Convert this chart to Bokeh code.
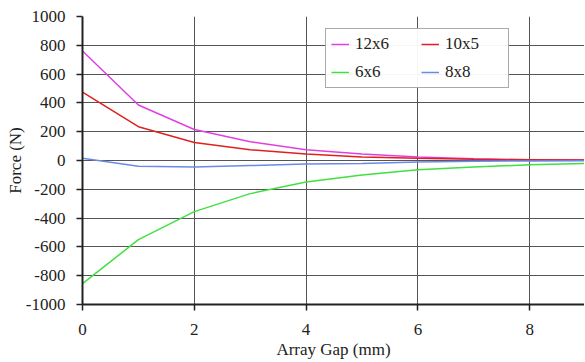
from bokeh.plotting import figure
from bokeh.models import Range1d, Legend, LegendItem, FixedTicker
from bokeh.embed import file_html
from bokeh.resources import INLINE

gap = [0, 1, 2, 3, 4, 5, 6, 7, 8, 9, 10]
f_12x6 = [760, 385, 215, 130, 75, 45, 25, 12, 5, 3, 2]
f_10x5 = [475, 235, 125, 75, 45, 25, 15, 8, 5, 3, 2]
f_6x6 = [-855, -550, -355, -230, -150, -100, -65, -45, -30, -20, -15]
f_8x8 = [15, -40, -45, -35, -25, -20, -10, -5, -3, -2, -1]
series_names = ["12x6", "10x5", "6x6", "8x8"]
series_colors = ["#e040e0", "#e02020", "#40e040", "#6a8ae6"]
x_ticks = [0, 2, 4, 6, 8]
y_ticks = list(range(-1000, 1001, 200))

FONT = "Liberation Serif"

p = figure(width=584, height=361, output_backend="svg", toolbar_location=None,
           x_range=Range1d(0, 8.98), y_range=Range1d(-1000, 1000),
           min_border_left=82, min_border_right=0, min_border_top=16, min_border_bottom=57)
p.outline_line_color = None
p.background_fill_color = "white"
p.border_fill_color = "white"

renderers = []
for ys, c in zip([f_12x6, f_10x5, f_6x6, f_8x8], series_colors):
    r = p.line(gap, ys, line_color=c, line_width=1.5)
    renderers.append(r)

p.xaxis.ticker = FixedTicker(ticks=x_ticks)
p.yaxis.ticker = FixedTicker(ticks=y_ticks)
p.yaxis.major_label_overrides = {t: str(t) for t in y_ticks}
p.xaxis.major_label_overrides = {t: str(t) for t in x_ticks}
for ax in (p.xaxis[0], p.yaxis[0]):
    ax.axis_line_color = "#222222"
    ax.axis_line_width = 2
    ax.major_tick_line_color = "#222222"
    ax.major_tick_line_width = 1.5
    ax.major_tick_out = 6
    ax.major_tick_in = 0
    ax.minor_tick_line_color = None
    ax.major_label_text_font = FONT
    ax.major_label_text_font_size = "17px"
    ax.major_label_text_color = "#222222"
    ax.axis_label_text_font = FONT
    ax.axis_label_text_font_size = "17px"
    ax.axis_label_text_font_style = "normal"
    ax.axis_label_text_color = "#222222"
p.xaxis.axis_label = "Array Gap (mm)"
p.yaxis.axis_label = "Force (N)"
p.xaxis.major_label_standoff = 13
p.xaxis.axis_label_standoff = 2
p.yaxis.major_label_standoff = 11
p.yaxis.axis_label_standoff = -2

p.xgrid.grid_line_color = "#555555"
p.ygrid.grid_line_color = "#555555"
p.xgrid.grid_line_width = 1
p.ygrid.grid_line_width = 1

order = [0, 2, 1, 3]  # legend fills column-first
items = [LegendItem(label=series_names[i], renderers=[renderers[i]]) for i in order]
legend = Legend(items=items, location=(243, 216), ncols=2,
                label_text_font=FONT, label_text_font_size="17px", label_text_color="#222222",
                border_line_color="#555555", border_line_width=1,
                glyph_width=18, glyph_height=16, label_standoff=6, label_width=58,
                spacing=8, padding=5, margin=0)
p.add_layout(legend, "center")

open("out.html", "w").write(file_html(p, INLINE))
